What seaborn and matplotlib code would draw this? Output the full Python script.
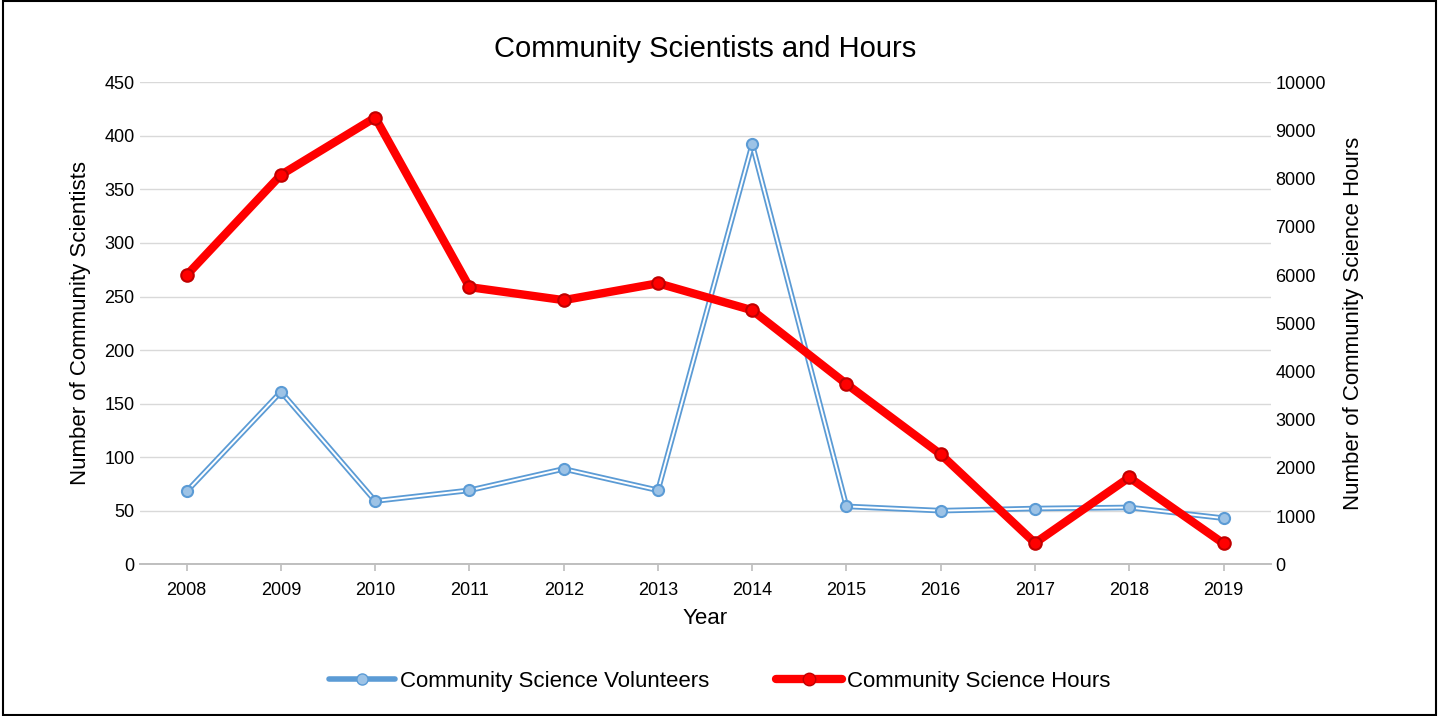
import matplotlib
matplotlib.use('Agg')
import matplotlib.pyplot as plt
import seaborn as sns
import pandas as pd
from matplotlib.lines import Line2D

years = [2008, 2009, 2010, 2011, 2012, 2013, 2014, 2015, 2016, 2017, 2018, 2019]
volunteers = [68, 161, 59, 69, 89, 69, 392, 54, 50, 52, 53, 43]
hours = [6000, 8080, 9270, 5750, 5480, 5830, 5270, 3740, 2280, 440, 1800, 430]

df = pd.DataFrame({'x': range(len(years)), 'vol': volunteers, 'hrs': hours})

sns.set_theme(style='white')
plt.rcParams['font.family'] = ['Liberation Sans', 'DejaVu Sans']
plt.rcParams['text.color'] = 'black'
plt.rcParams['axes.labelcolor'] = 'black'

fig = plt.figure(figsize=(14.39, 7.16), dpi=100)
ax = fig.add_axes([0.097, 0.212, 0.786, 0.673])
ax2 = ax.twinx()

blue = '#5b9bd5'
# double line effect: thick blue with thin white core
sns.lineplot(data=df, x='x', y='vol', ax=ax, color=blue, linewidth=4, zorder=3)
sns.lineplot(data=df, x='x', y='vol', ax=ax, color='white', linewidth=1.4, zorder=4)
ax.plot(df['x'], df['vol'], linestyle='none', marker='o', markersize=8,
        markerfacecolor='#9dc3e6', markeredgecolor=blue, markeredgewidth=1.5, zorder=5)

sns.lineplot(data=df, x='x', y='hrs', ax=ax2, color='#ff0000', linewidth=6, zorder=3)
ax2.plot(df['x'], df['hrs'], linestyle='none', marker='o', markersize=9,
         markerfacecolor='#ff0000', markeredgecolor='#c00000', markeredgewidth=1.5, zorder=5)

ax.set_xlim(-0.5, len(years) - 0.5)
ax.set_ylim(0, 450)
ax.set_yticks(range(0, 451, 50))
ax2.set_ylim(0, 10000)
ax2.set_yticks(range(0, 10001, 1000))
ax.set_xticks(range(len(years)))
ax.set_xticklabels([str(y) for y in years])
ax.yaxis.grid(True, color='#d9d9d9', linewidth=1)
ax.set_axisbelow(True)
for a in (ax, ax2):
    for s in a.spines.values():
        s.set_visible(False)
    a.spines['bottom'].set_visible(True)
    a.spines['bottom'].set_color('#bfbfbf')
    a.tick_params(labelsize=13, colors='black', length=0)
ax.tick_params(axis='x', length=5, color='#bfbfbf', direction='out', bottom=True, pad=8)
ax.set_xlabel('Year', fontsize=16, color='black', labelpad=6)
ax.set_ylabel('Number of Community Scientists', fontsize=16, color='black', labelpad=10)
ax2.set_ylabel('Number of Community Science Hours', fontsize=16, color='black', labelpad=12)
ax.set_title('Community Scientists and Hours', fontsize=21, pad=18, color='black')

h1 = Line2D([], [], color=blue, linewidth=4, marker='o', markersize=8,
            markerfacecolor='#9dc3e6', markeredgecolor=blue)
h2 = Line2D([], [], color='#ff0000', linewidth=6, marker='o', markersize=9,
            markerfacecolor='#ff0000', markeredgecolor='#c00000')
fig.legend([h1, h2], ['Community Science Volunteers', 'Community Science Hours'],
           loc='center', bbox_to_anchor=(0.5, 0.048), ncol=2, frameon=False,
           fontsize=16, handlelength=3, columnspacing=3, handletextpad=0.2)

fig.patches.append(plt.Rectangle((0.002, 0.002), 0.996, 0.996, transform=fig.transFigure,
                                 fill=False, edgecolor='black', linewidth=1.5))
fig.savefig('out.png', dpi=100)
